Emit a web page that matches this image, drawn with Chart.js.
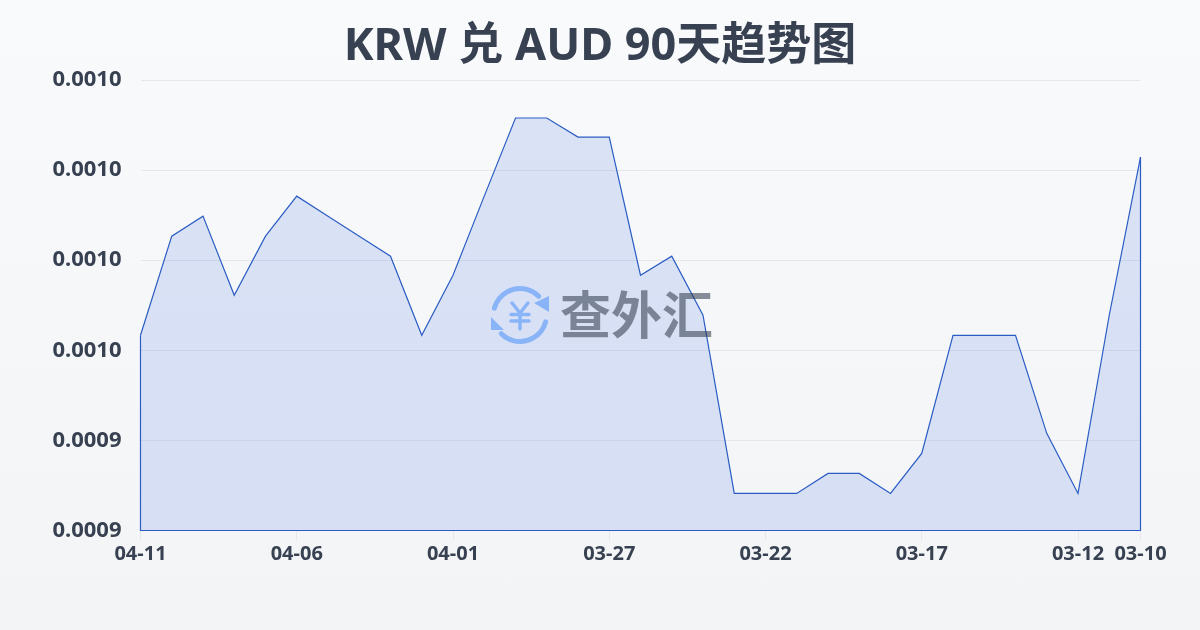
<!DOCTYPE html>
<html>
<head>
<meta charset="utf-8">
<script src="https://cdn.jsdelivr.net/npm/chart.js@4"></script>
<style>
  html, body { margin: 0; padding: 0; }
  body { width: 1200px; height: 630px; overflow: hidden; background: linear-gradient(180deg, #f9fafb 0%, #f3f4f6 100%); }
  #box { width: 1200px; height: 630px; }
</style>
</head>
<body>
<div id="box"><canvas id="rateChart" width="1200" height="630"></canvas></div>
<script>
const FONT = '"Noto Sans", "Noto Sans CJK SC", sans-serif';
const LOGO_FONT = '"Noto Sans CJK SC", sans-serif';
const titleText = 'KRW 兑 AUD 90天趋势图';

const dates = ['04-11','04-10','04-09','04-08','04-07','04-06','04-05','04-04','04-03','04-02','04-01',
  '03-31','03-30','03-29','03-28','03-27','03-26','03-25','03-24','03-23','03-22',
  '03-21','03-20','03-19','03-18','03-17','03-16','03-15','03-14','03-13','03-12','03-11','03-10'];
const rates = [0.00096333,0.00098533,0.00098978,0.00097222,0.00098533,0.00099422,0.00098978,0.00098533,0.00098089,0.00096333,0.00097667,
  0.00099422,0.00101156,0.00101156,0.00100733,0.00100733,0.00097667,0.00098089,0.00096778,0.00092822,0.00092822,
  0.00092822,0.00093267,0.00093267,0.00092822,0.00093711,0.00096333,0.00096333,0.00096333,0.00094156,0.00092822,0.00096778,0.00100289];
const shownDates = ['04-11','04-06','04-01','03-27','03-22','03-17','03-12','03-10'];
const yMin = 0.00092, yMax = 0.00102, yStep = 0.00002;

// title is centred on the whole canvas, not on the padded box
const wideTitle = {
  id: 'wideTitle',
  afterLayout(chart) {
    chart.titleBlock.left = 0;
    chart.titleBlock.right = chart.width;
  }
};

// closes the area outline down the sides and along the bottom
const outline = {
  id: 'outline',
  afterDatasetsDraw(chart) {
    const { ctx, chartArea } = chart;
    const pts = chart.getDatasetMeta(0).data;
    ctx.save();
    ctx.strokeStyle = '#2a5cc4';
    ctx.lineWidth = 1.2;
    ctx.beginPath();
    ctx.moveTo(pts[0].x, pts[0].y);
    ctx.lineTo(pts[0].x, chartArea.bottom);
    ctx.lineTo(pts[pts.length - 1].x, chartArea.bottom);
    ctx.lineTo(pts[pts.length - 1].x, pts[pts.length - 1].y);
    ctx.stroke();
    ctx.restore();
  }
};

const watermark = {
  id: 'watermark',
  afterDatasetsDraw(chart) {
    const ctx = chart.ctx;
    const cx = 520, cy = 315, r = 26.5;
    const rad = d => d * Math.PI / 180;
    ctx.save();
    ctx.strokeStyle = '#8ab4f8';
    ctx.fillStyle = '#8ab4f8';
    ctx.lineWidth = 5;
    ctx.lineCap = 'round';
    ctx.lineJoin = 'round';
    ctx.beginPath();
    ctx.arc(cx, cy, r, rad(195), rad(315));
    ctx.stroke();
    ctx.beginPath();
    ctx.arc(cx, cy, r, rad(15), rad(135));
    ctx.stroke();
    ctx.beginPath();
    ctx.moveTo(549, 296); ctx.lineTo(549, 312); ctx.lineTo(534, 303);
    ctx.closePath();
    ctx.fill();
    ctx.beginPath();
    ctx.moveTo(491, 317); ctx.lineTo(491, 330); ctx.lineTo(504, 330);
    ctx.closePath();
    ctx.fill();
    // yen mark of the logo
    ctx.lineWidth = 3.5;
    ctx.beginPath();
    ctx.moveTo(512, 303); ctx.lineTo(520, 313); ctx.lineTo(528, 303);
    ctx.moveTo(520, 313); ctx.lineTo(520, 329);
    ctx.moveTo(511, 314.5); ctx.lineTo(529, 314.5);
    ctx.moveTo(511, 321); ctx.lineTo(529, 321);
    ctx.stroke();
    ctx.globalAlpha = 0.55;
    ctx.fillStyle = '#2b3648';
    ctx.font = 'bold 51px ' + LOGO_FONT;
    ctx.textAlign = 'left';
    ctx.textBaseline = 'middle';
    ctx.fillText('查外汇', 560, 315);
    ctx.restore();
  }
};

new Chart(document.getElementById('rateChart'), {
  type: 'line',
  data: {
    labels: dates,
    datasets: [{
      data: rates,
      borderColor: '#2a5cc4',
      borderWidth: 1.2,
      backgroundColor: 'rgba(62, 115, 225, 0.16)',
      fill: 'start',
      tension: 0,
      pointRadius: 0
    }]
  },
  options: {
    responsive: false,
    animation: false,
    layout: { padding: { left: 0, right: 59.5, top: 0, bottom: 0 } },
    plugins: {
      legend: { display: false },
      tooltip: { enabled: false },
      title: {
        display: true,
        text: titleText,
        color: '#374151',
        font: { family: FONT, size: 45, weight: 'bold', lineHeight: 1.2 },
        padding: { top: 20, bottom: 6 }
      }
    },
    scales: {
      x: {
        offset: false,
        afterBuildTicks(scale) {
          scale.ticks = scale.ticks.filter(t => shownDates.includes(dates[t.value]));
        },
        afterFit(scale) { scale.height = 99.5; },
        border: { display: false },
        grid: { drawOnChartArea: false, tickLength: 10, color: '#e5e7eb' },
        ticks: {
          autoSkip: false,
          maxRotation: 0,
          padding: 2,
          color: '#374151',
          font: { family: FONT, size: 20, weight: 'bold' }
        }
      },
      y: {
        min: yMin,
        max: yMax,
        afterFit(scale) { scale.width = 140.5; },
        border: { display: false },
        grid: { color: '#e5e7eb', drawTicks: false },
        ticks: {
          stepSize: yStep,
          padding: 19,
          color: '#374151',
          font: { family: FONT, size: 22, weight: 'bold' },
          callback: v => v.toFixed(4)
        }
      }
    }
  },
  plugins: [wideTitle, outline, watermark]
});
</script>
</body>
</html>
